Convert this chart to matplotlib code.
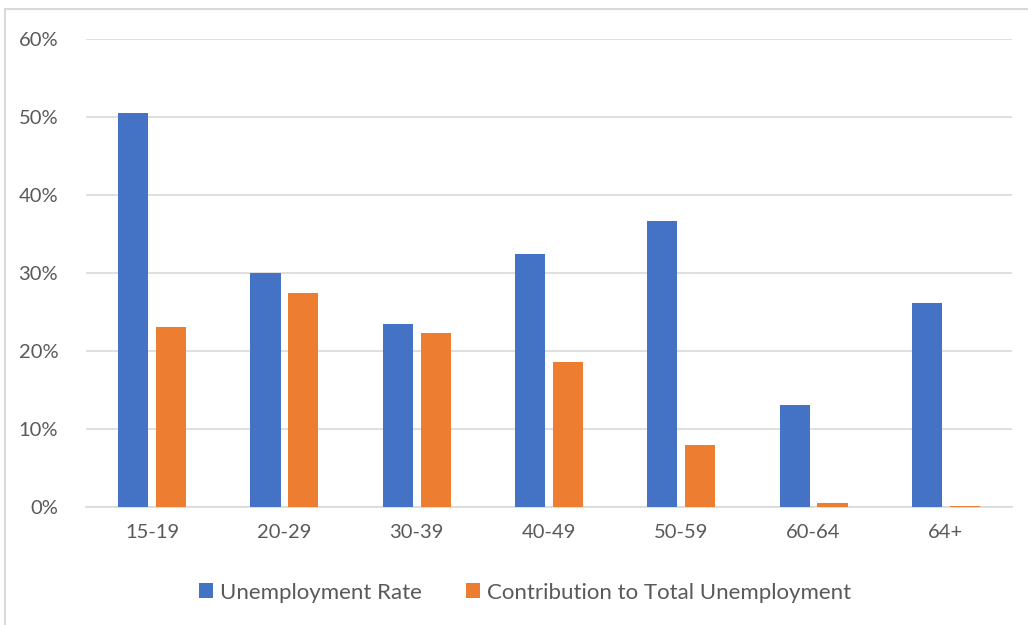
import matplotlib
matplotlib.use("Agg")
import matplotlib.pyplot as plt
import matplotlib.patches as mpatches
import numpy as np

# --- Datos ---
age_groups = ['15-19', '20-29', '30-39', '40-49', '50-59', '60-64', '64+']
unemployment_rate = [50.5, 30.0, 23.4, 32.4, 36.7, 13.1, 26.2]
contribution_total = [23.1, 27.4, 22.3, 18.6, 7.9, 0.5, 0.15]

blue = '#4472C4'
orange = '#ED7D31'
gray_txt = '#595959'

plt.rcParams['font.family'] = ['Lato', 'DejaVu Sans']

fig = plt.figure(figsize=(10.28, 6.25), dpi=100)
ax = fig.add_axes([86/1028, 1 - 507/625, (1012 - 86)/1028, (507 - 39)/625])

# marco del grafico (solo se ve arriba y a la izquierda)
fig.patches.append(mpatches.Rectangle((5/1028, -0.1), 1.2, 1.1 - 9/625,
                                      transform=fig.transFigure, fill=False,
                                      edgecolor='#D9D9D9', linewidth=1.5))

x = np.arange(len(age_groups))
w = 0.227
off = 0.143
ax.bar(x - off, unemployment_rate, w, color=blue, label='Unemployment Rate', zorder=3)
ax.bar(x + off, contribution_total, w, color=orange,
       label='Contribution to Total Unemployment', zorder=3)

ax.set_xlim(-0.5, len(age_groups) - 0.5)
ax.set_ylim(0, 60)
ax.set_yticks(range(0, 61, 10))
ax.set_yticklabels([f'{v}%' for v in range(0, 61, 10)])
ax.set_xticks(x)
ax.set_xticklabels(age_groups)

ax.grid(axis='y', color='#D9D9D9', linewidth=1.2, zorder=0)
for s in ['top', 'right', 'left']:
    ax.spines[s].set_visible(False)
ax.spines['bottom'].set_color('#D9D9D9')
ax.spines['bottom'].set_linewidth(1.2)
ax.tick_params(axis='both', length=0, labelsize=14.5, labelcolor=gray_txt)
ax.tick_params(axis='y', pad=20)
ax.tick_params(axis='x', pad=12)

ax.legend(loc='center', bbox_to_anchor=(0.474, -0.183), ncol=2, frameon=False,
          fontsize=16, labelcolor=gray_txt, handlelength=0.65, handleheight=0.65,
          handletextpad=0.3, columnspacing=2.0)

fig.savefig('out.png', dpi=100)
